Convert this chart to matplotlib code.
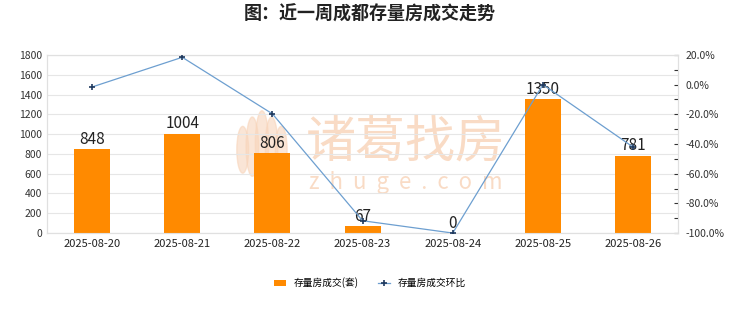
import matplotlib
matplotlib.use('Agg')
import matplotlib.pyplot as plt
from matplotlib.patches import Ellipse
from matplotlib.lines import Line2D
from matplotlib.patches import Patch

plt.rcParams['font.family'] = ['Noto Sans CJK SC', 'DejaVu Sans']
plt.rcParams['axes.unicode_minus'] = False

# 数据
dates = ['2025-08-20', '2025-08-21', '2025-08-22', '2025-08-23',
         '2025-08-24', '2025-08-25', '2025-08-26']
volumes = [848, 1004, 806, 67, 0, 1350, 781]
mom_pct = [-1.6, 18.4, -19.7, -91.7, -100.0, 0.0, -42.1]
left_ticks = [0, 200, 400, 600, 800, 1000, 1200, 1400, 1600, 1800]
right_ticks = [-100, -80, -60, -40, -20, 0, 20]

fig = plt.figure(figsize=(7.4, 3.12), dpi=100)
ax = fig.add_axes([0.0635, 0.253, 0.853, 0.571])
ax2 = ax.twinx()

x = list(range(len(dates)))

# 水印
fig.text(0.548, 0.542, '诸葛找房', fontsize=36, color='#f8d5bb', alpha=0.85,
         ha='center', va='center', zorder=0)
fig.text(0.548, 0.415, 'z  h  u  g  e  .  c  o  m', fontsize=16, color='#f8d5bb',
         alpha=0.85, ha='center', va='center', zorder=0)
for dx, w, h, dy in [(-0.026, 0.016, 0.15, -0.01), (-0.013, 0.017, 0.19, 0.0),
                     (0.0, 0.018, 0.21, 0.01), (0.013, 0.017, 0.19, 0.0),
                     (0.026, 0.016, 0.15, -0.01)]:
    fig.patches.append(Ellipse((0.354 + dx, 0.53 + dy), w, h, transform=fig.transFigure,
                               color='#f8d5bb', alpha=0.6, zorder=0))

ax.set_zorder(1)
ax2.set_zorder(2)
ax.patch.set_visible(False)

bars = ax.bar(x, volumes, width=0.4, color='#ff8a00', zorder=3)
for xi, v in zip(x, volumes):
    ax.text(xi, v + 15, str(v), ha='center', va='bottom', fontsize=11,
            color='#222222', zorder=5)

ax.set_ylim(0, 1800)
ax.set_yticks(left_ticks)
ax.set_xlim(-0.5, len(dates) - 0.5)
ax.set_xticks(x)
ax.set_xticklabels(dates, fontsize=8)
ax.tick_params(axis='y', labelsize=7.5, length=0, colors='#333333')
ax.tick_params(axis='x', length=0, pad=4, colors='#222222')
ax.grid(axis='y', color='#e6e6e6', linewidth=0.8, zorder=0)
for s in ax.spines.values():
    s.set_color('#e0e0e0')

ax2.plot(x, mom_pct, color='#6d9fd0', linewidth=0.9, marker='+',
         markersize=4, markeredgecolor='#1f3a5f', markeredgewidth=1.2, zorder=4)
ax2.set_ylim(-100, 20)
ax2.set_yticks(right_ticks)
ax2.set_yticklabels(['{:.1f}%'.format(t) for t in right_ticks])
ax2.set_yticks(range(-90, 20, 20), minor=True)
ax2.tick_params(axis='y', which='both', direction='in', length=3, width=0.8,
                labelsize=7.5, colors='#333333', pad=5)
for s in ax2.spines.values():
    s.set_color('#e0e0e0')

fig.text(0.5, 0.955, '图：近一周成都存量房成交走势', ha='center', va='center',
         fontsize=13, fontweight='bold', color='#222222')

handles = [Patch(facecolor='#ff8a00', edgecolor='none'),
           Line2D([0], [0], color='#6d9fd0', linewidth=0.9, marker='+',
                  markersize=4, markeredgecolor='#1f3a5f', markeredgewidth=1.2)]
fig.legend(handles, ['存量房成交(套)', '存量房成交环比'], loc='center',
           bbox_to_anchor=(0.5, 0.093), ncol=2, frameon=False, fontsize=7,
           handlelength=1.2, handleheight=0.6, columnspacing=2.0)

fig.savefig('out.png', dpi=100)
